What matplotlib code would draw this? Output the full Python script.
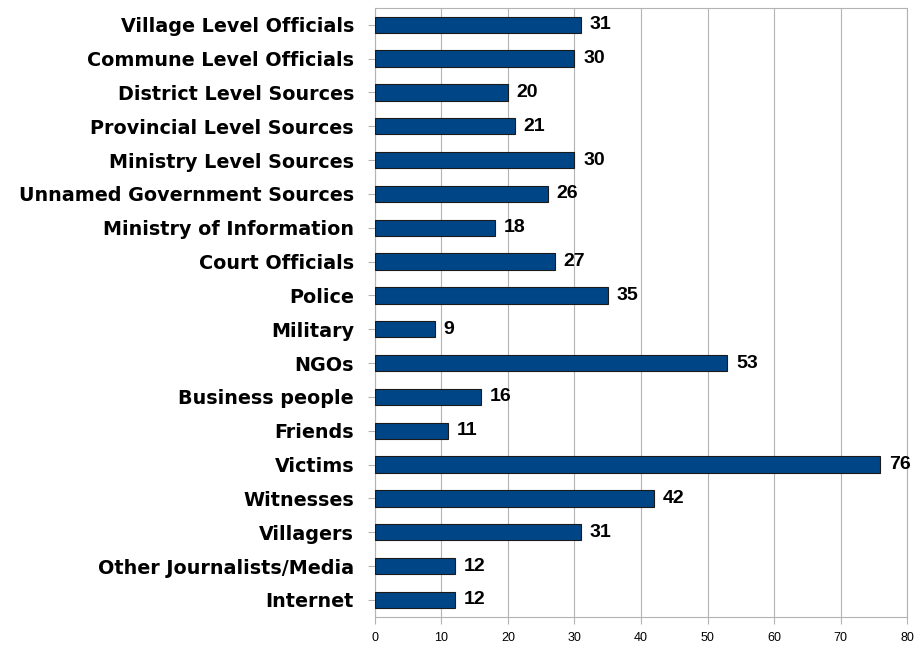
import matplotlib.pyplot as plt

# Sources cited, top to bottom
categories = [
    'Village Level Officials', 'Commune Level Officials', 'District Level Sources',
    'Provincial Level Sources', 'Ministry Level Sources', 'Unnamed Government Sources',
    'Ministry of Information', 'Court Officials', 'Police', 'Military', 'NGOs',
    'Business people', 'Friends', 'Victims', 'Witnesses', 'Villagers',
    'Other Journalists/Media', 'Internet',
]
counts = [31, 30, 20, 21, 30, 26, 18, 27, 35, 9, 53, 16, 11, 76, 42, 31, 12, 12]
xticks = [0, 10, 20, 30, 40, 50, 60, 70, 80]

plt.rcParams['font.family'] = ['Liberation Sans', 'DejaVu Sans']

fig = plt.figure(figsize=(9.19, 6.5), dpi=100)
ax = fig.add_axes([0.408, 0.051, 0.579, 0.937])

ypos = list(range(len(categories)))[::-1]
ax.barh(ypos, counts, height=0.48, color='#004586', edgecolor='#1a1a1a',
        linewidth=0.8, zorder=3)

for y, v in zip(ypos, counts):
    ax.text(v + 1.3, y, str(v), va='center', ha='left',
            fontsize=14, fontweight='bold', color='black')

ax.set_xlim(0, 80)
ax.set_ylim(-0.5, len(categories) - 0.5)
ax.set_xticks(xticks)
ax.set_yticks(ypos)
ax.set_yticklabels(categories, fontsize=13.8, fontweight='bold',
                   family=['DejaVu Sans'])
ax.tick_params(axis='x', labelsize=9, length=5, color='#b3b3b3', pad=6)
ax.tick_params(axis='y', length=5, color='#b3b3b3', pad=10)

ax.grid(axis='x', color='#b3b3b3', linewidth=0.8, zorder=0)
for s in ax.spines.values():
    s.set_color('#b3b3b3')
    s.set_linewidth(0.8)

fig.savefig('out.png', dpi=100)
